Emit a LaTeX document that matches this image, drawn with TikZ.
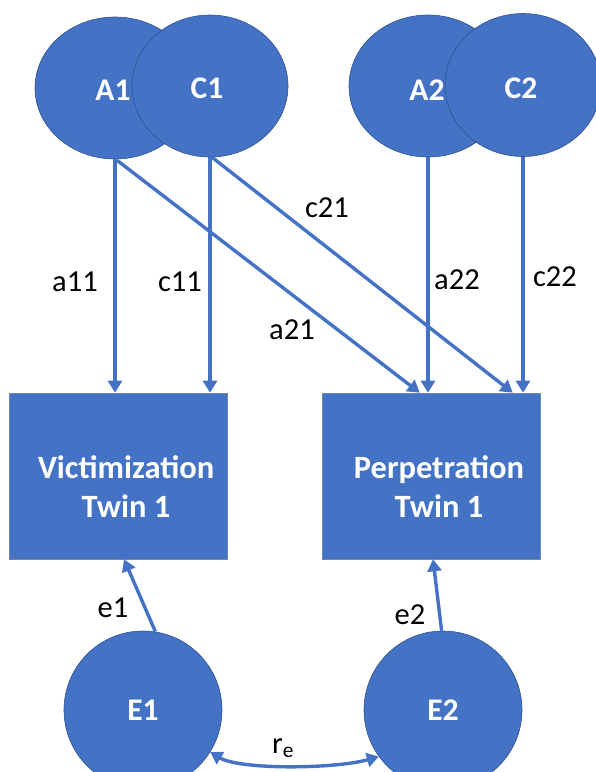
\documentclass[tikz,border=0pt]{standalone}
\usepackage{fontspec}
\setmainfont{Carlito}
\usetikzlibrary{shapes.geometric,arrows.meta,calc}
\definecolor{obl}{HTML}{4472C4}
\definecolor{odk}{HTML}{2F528F}
\begin{document}
\begin{tikzpicture}[x=1pt,y=-1pt,
 latent/.style={ellipse, fill=obl, draw=odk, line width=0.6pt, inner sep=0pt, text=white, font=\fontsize{31.5}{36}\selectfont\bfseries},
 errc/.style={circle, fill=obl, draw=odk, line width=0.6pt, inner sep=0pt, minimum size=158pt, text=white, font=\fontsize{31.5}{36}\selectfont\bfseries},
 obsbox/.style={rectangle, fill=obl, draw=odk!70, line width=0.6pt, inner sep=0pt, minimum width=218pt, minimum height=166pt},
 boxtxt/.style={text=white, align=center, inner sep=0pt, font=\fontsize{32.5}{39}\selectfont\bfseries},
 ltxt/.style={text=white, font=\fontsize{31.5}{36}\selectfont\bfseries, inner sep=0pt},
 conn/.style={draw=obl, line width=3.4pt, -{Triangle[width=14pt,length=12pt]}},
 dconn/.style={draw=obl, line width=3.4pt, {Triangle[width=14pt,length=12pt]}-{Triangle[width=14pt,length=12pt]}},
 lbl/.style={font=\fontsize{30.5}{36}\selectfont, text=black, inner sep=0pt}]
\useasboundingbox (0,0) rectangle (596,772);
\clip (0,0) rectangle (596,772);

% latent factors
\node[latent, minimum width=160pt, minimum height=142pt] (A1) at (115,88) {};
\node[latent, minimum width=156pt, minimum height=142pt] (C1) at (210,86) {};
\node[latent, minimum width=158pt, minimum height=142pt] (A2) at (428,86) {};
\node[latent, minimum width=156pt, minimum height=143pt] (C2) at (523,85) {};
\node[ltxt] (tA1) at (113,90) {A1};
\node[ltxt] (tC1) at (207,88) {C1};
\node[ltxt] (tA2) at (427,90) {A2};
\node[ltxt] (tC2) at (521,88) {C2};

% observed
\node[obsbox] (V) at (118,476) {};
\node[obsbox] (P) at (431,476) {};
\node[boxtxt] (tV) at (126,487) {Victimization\\Twin 1};
\node[boxtxt] (tP) at (439,487) {Perpetration\\Twin 1};

% errors
\node[errc] (E1) at (143,710) {E1};
\node[errc] (E2) at (443,710) {E2};

% paths
\coordinate (pa21) at ($(P.north west)+(98,0)$);
\coordinate (pc21) at ($(P.north west)+(191,0)$);
\coordinate (ve1) at ($(V.south)+(6,0)$);
\coordinate (pe2) at ($(P.south)+(2,0)$);

\draw[conn] (A1.south) -- (A1.south |- V.north);
\draw[conn] (C1.south) -- (C1.south |- V.north);
\draw[conn] (A2.south) -- (A2.south |- P.north);
\draw[conn] (C2.south) -- (C2.south |- P.north);
\draw[conn] ($(A1.south)+(2,1)$) -- (pa21);
\draw[conn] ($(C1.south)+(2,0)$) -- (pc21);
\draw[conn] (E1.81) -- (ve1);
\draw[conn] (E2.91) -- (pe2);
\draw[dconn] (E1.-32) .. controls (240,770) and (335,769) .. (E2.216);

% labels
\node[lbl] (la11) at (75,282) {a11};
\node[lbl] (lc11) at (180,282) {c11};
\node[lbl] (lc21) at (327,208) {c21};
\node[lbl] (la21) at (292,330) {a21};
\node[lbl] (la22) at (457,280) {a22};
\node[lbl] (lc22) at (555,277) {c22};
\node[lbl] (le1) at (113,608) {e1};
\node[lbl] (le2) at (410,615) {e2};
\node[lbl] (lre) at (283,748) {r\textsubscript{e}};
\end{tikzpicture}
\end{document}
